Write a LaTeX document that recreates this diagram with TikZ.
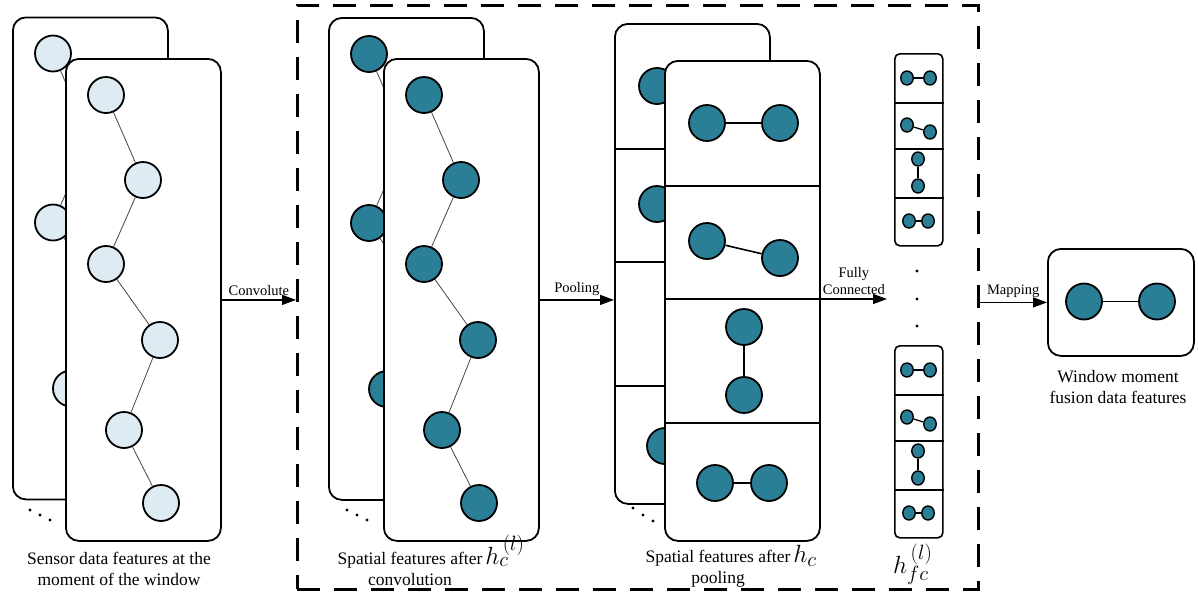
\documentclass[tikz,border=0pt]{standalone}
\usepackage{fontspec}
\setmainfont{Liberation Serif}
\usetikzlibrary{arrows.meta,shapes.geometric,calc}
\definecolor{tealc}{RGB}{42,126,150}
\definecolor{lightc}{RGB}{221,236,243}
\definecolor{zzline}{RGB}{70,70,70}
\newcommand\bigh[1]{\rlap{\smash{\kern3pt\fontsize{28}{30}\selectfont$#1$}}}
\tikzset{
  card/.style={draw, line width=1.8pt, rounded corners=13pt, fill=white, inner sep=0pt},
  fcard/.style={draw, line width=1.6pt, rounded corners=5pt, fill=white, inner sep=0pt},
  bigc/.style={circle, draw, line width=1.8pt, minimum size=36pt, inner sep=0pt},
  smallc/.style={ellipse, draw, line width=1.4pt, fill=tealc, minimum width=12.5pt, minimum height=14pt, inner sep=0pt},
  zz/.style={draw=zzline, line width=0.8pt},
  pl/.style={draw, line width=1.6pt},
  divl/.style={draw, line width=1.5pt},
  arr/.style={-{Triangle[length=14pt,width=10pt]}, line width=1.4pt},
  lab/.style={font=\fontsize{14.5}{17}\selectfont, inner sep=1pt, align=center},
  captxt/.style={align=center, font=\fontsize{17.5}{21}\selectfont, inner sep=0pt},
  hlab/.style={font=\fontsize{28}{30}\selectfont, inner sep=0pt, anchor=base west},
  dframe/.style={draw, line width=2.5pt, dash pattern=on 23pt off 14pt, inner sep=0pt}
}
\newcommand\zigcard[3]{%
\begin{scope}[shift={(#2)}]
\node[card, minimum width=155pt, minimum height=482pt, anchor=north west] (#1card) at (0,0) {};
\node[bigc, fill=#3] (#1c1) at (41,37) {};
\node[bigc, fill=#3] (#1c2) at (78,122) {};
\node[bigc, fill=#3] (#1c3) at (41,206) {};
\node[bigc, fill=#3] (#1c4) at (95,282) {};
\node[bigc, fill=#3] (#1c5) at (59,372) {};
\node[bigc, fill=#3] (#1c6) at (96,445) {};
\draw[zz] (#1c1) -- (#1c2) -- (#1c3) -- (#1c4) -- (#1c5) -- (#1c6);
\end{scope}}
\newcommand\poolcard[2]{%
\begin{scope}[shift={(#2)}]
\node[card, minimum width=155pt, minimum height=480pt, anchor=north west] (#1card) at (0,0) {};
\coordinate (#1d1) at (0,126);
\coordinate (#1d2) at (0,239);
\coordinate (#1d3) at (0,363);
\draw[divl] (#1card.west |- #1d1) -- (#1card.east |- #1d1);
\draw[divl] (#1card.west |- #1d2) -- (#1card.east |- #1d2);
\draw[divl] (#1card.west |- #1d3) -- (#1card.east |- #1d3);
\node[bigc, fill=tealc] (#1p1) at (43,63) {};
\node[bigc, fill=tealc] (#1p2) at (116,63) {};
\node[bigc, fill=tealc] (#1p3) at (43,181) {};
\node[bigc, fill=tealc] (#1p4) at (116,198) {};
\node[bigc, fill=tealc] (#1p5) at (80,267) {};
\node[bigc, fill=tealc] (#1p6) at (80,335) {};
\node[bigc, fill=tealc] (#1p7) at (51,423) {};
\node[bigc, fill=tealc] (#1p8) at (105,423) {};
\draw[pl] (#1p1) -- (#1p2);
\draw[pl] (#1p3) -- (#1p4);
\draw[pl] (#1p5) -- (#1p6);
\draw[pl] (#1p7) -- (#1p8);
\end{scope}}
\newcommand\fcbox[2]{%
\begin{scope}[shift={(#2)}]
\node[fcard, minimum width=48pt, minimum height=192pt, anchor=north west] (#1card) at (0,0) {};
\coordinate (#1d1) at (0,50);
\coordinate (#1d2) at (0,96);
\coordinate (#1d3) at (0,145);
\draw[divl] (#1card.west |- #1d1) -- (#1card.east |- #1d1);
\draw[divl] (#1card.west |- #1d2) -- (#1card.east |- #1d2);
\draw[divl] (#1card.west |- #1d3) -- (#1card.east |- #1d3);
\node[smallc] (#1s1) at (13,25) {};
\node[smallc] (#1s2) at (36,25) {};
\node[smallc] (#1s3) at (13,72) {};
\node[smallc] (#1s4) at (36,79) {};
\node[smallc] (#1s5) at (24,106) {};
\node[smallc] (#1s6) at (24,133) {};
\node[smallc] (#1s7) at (15,168) {};
\node[smallc] (#1s8) at (34,168) {};
\draw[line width=1.3pt] (#1s1) -- (#1s2);
\draw[line width=1.3pt] (#1s3) -- (#1s4);
\draw[line width=1.3pt] (#1s5) -- (#1s6);
\draw[line width=1.3pt] (#1s7) -- (#1s8);
\end{scope}}
\begin{document}
\begin{tikzpicture}[x=1pt,y=-1pt]
\useasboundingbox (0,0) rectangle (1198,595);
\fill[white] (0,0) rectangle (1198,595);
% dashed frame
\node[dframe, minimum width=681pt, minimum height=584pt, anchor=north west] (frame) at (296,4) {};
% left panel
\zigcard{Ab}{12,16.5}{lightc}
\zigcard{Af}{65,58}{lightc}
\fill (30,510) circle (1.6) (40,515) circle (1.6) (50,520) circle (1.6);
% middle panel
\zigcard{Bb}{328,17}{tealc}
\zigcard{Bf}{383,58}{tealc}
\fill (347,510) circle (1.6) (357,515) circle (1.6) (367,520) circle (1.6);
% pooling panel
\poolcard{Pb}{614,23}
\poolcard{Pf}{664,60}
\fill (633,508) circle (1.6) (643,515) circle (1.6) (653,521) circle (1.6);
% fc column
\fcbox{Fa}{894,53}
\fcbox{Fb}{894,345}
\fill (917,271) circle (1.6) (917,299) circle (1.6) (917,326) circle (1.6);
% output
\node[card, minimum width=146pt, minimum height=107pt, anchor=north west] (out) at (1047,248) {};
\node[bigc, fill=tealc] (o1) at (1084,301.5) {};
\node[bigc, fill=tealc] (o2) at (1157,301.5) {};
\draw[pl] (o1) -- (o2);
% arrows
\coordinate (fcend) at (887,299);
\draw[arr] (Afcard.east) -- node[lab, above=3pt] (lconv) {Convolute} (Afcard.east -| frame.west);
\draw[arr] (Bfcard.east) -- node[lab, above=3pt] (lpool) {Pooling} (Bfcard.east -| Pbcard.west);
\draw[arr] (Pfcard.east |- Pfd2) -- node[lab, above=3pt] (lfc) {Fully\\Connected} (fcend);
\draw[arr] (out.west -| frame.east) -- node[lab, above=3pt] (lmap) {Mapping} (out.west);
% captions
\node[captxt] (capA) at (119,569) {Sensor data features at the\\moment of the window};
\node[captxt] (capB) at (410,569) {Spatial features after\bigh{h_{c}^{\,(l)}}\\convolution};
\node[captxt] (capC) at (718,569) {Spatial features after\bigh{h_c}\\pooling};
\node[hlab] (hF) at (893,573) {$h_{fc}^{\,(l)}$};
\node[captxt] (capD) at (1118,387) {Window moment\\fusion data features};
\end{tikzpicture}
\end{document}
